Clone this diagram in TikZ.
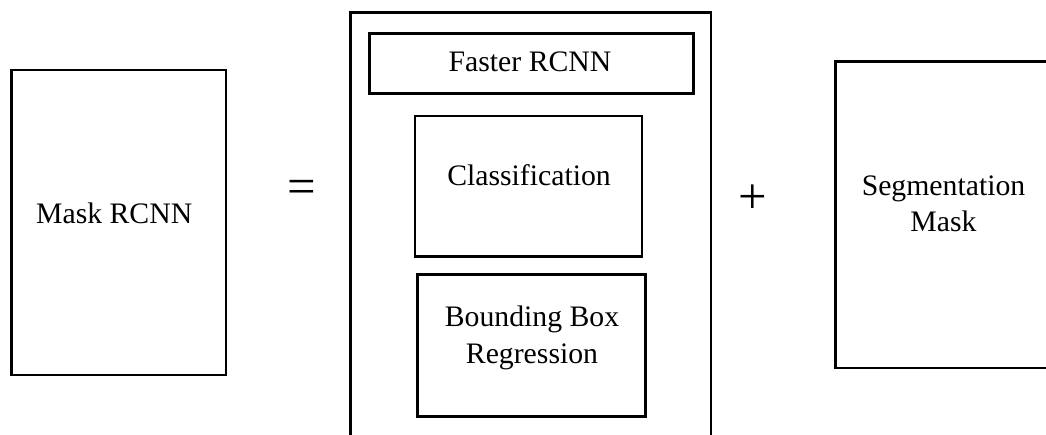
\documentclass[tikz,border=0pt]{standalone}
\usepackage{fontspec}
\setmainfont{Liberation Serif}
\begin{document}
\begin{tikzpicture}[x=0.75pt,y=-0.75pt,
  box/.style={draw,line width=2.2pt,inner sep=0pt},
  txt/.style={font=\fontsize{22.3}{27.5}\selectfont,align=center,inner sep=0pt},
  sym/.style={font=\fontsize{38}{38}\selectfont,inner sep=0pt}]
  \useasboundingbox (0,0) rectangle (1046,435);
  \clip (0,0) rectangle (1046,435);
  % left hand side
  \node[box,minimum width=160.7pt,minimum height=228.75pt] (maskbox) at (118.85,222.5) {};
  \node[txt,anchor=base] (mask) at (114.2,223) {Mask RCNN};
  \node[sym] (eq) at (302,192) {=};
  % faster rcnn part, open at the bottom
  \node[box,minimum width=270.4pt,minimum height=335.5pt] (outer) at (530.75,236.35) {};
  \node[box,minimum width=243pt,minimum height=45pt] (faster) at (531.3,63.3) {};
  \node[txt,anchor=base] (fastertxt) at (530,71.7) {Faster RCNN};
  \node[box,minimum width=170.25pt,minimum height=105.5pt] (cls) at (528.5,186.3) {};
  \node[txt,anchor=base] (clstxt) at (529,185) {Classification};
  \node[box,minimum width=170.8pt,minimum height=106.3pt] (bbr) at (531.8,345.8) {};
  \node[txt,anchor=base] (bbrtxt) at (532,363.3) {Bounding Box\\Regression};
  \node[sym] (plus) at (753,199) {+};
  % mask branch
  \node[box,minimum width=161.5pt,minimum height=229.7pt] (segbox) at (943.35,214.85) {};
  \node[txt,anchor=base] (seg) at (943.5,231.7) {Segmentation\\Mask};
\end{tikzpicture}
\end{document}
